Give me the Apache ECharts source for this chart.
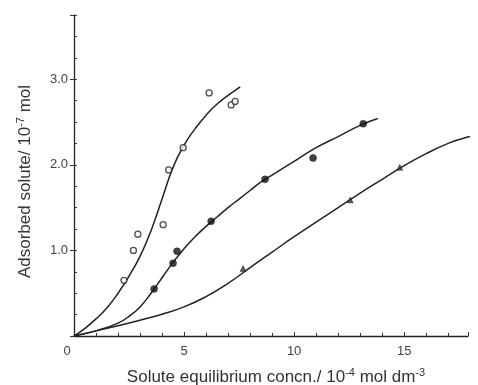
<!DOCTYPE html>
<html><head><meta charset="utf-8">
<script src="https://cdn.jsdelivr.net/npm/echarts@6/dist/echarts.min.js"></script>
<style>html,body{margin:0;padding:0;background:#fff}#c{width:478px;height:385px}</style>
</head><body><div id="c"></div>
<script>
// Measured points
const openCircles = [[2.27,0.65],[2.7,1.0],[2.9,1.19],[4.05,1.30],[4.3,1.94],[4.96,2.2],[6.14,2.84],[7.14,2.70],[7.32,2.74]];
const filledCircles = [[3.64,0.55],[4.5,0.85],[4.68,0.99],[6.23,1.34],[8.68,1.83],[10.86,2.08],[13.14,2.48]];
const triangles = [[7.68,0.79],[12.55,1.59],[14.8,1.97]];
// Fitted curves
const curve1 = [[0,0],[0.5,0.09],[1,0.2],[1.5,0.33],[2,0.5],[2.5,0.7],[3,0.93],[3.5,1.23],[4,1.6],[4.5,1.97],[5,2.23],[5.5,2.42],[6,2.58],[6.5,2.71],[7,2.81],[7.55,2.91]];
const curve2 = [[0,0],[1,0.06],[2,0.15],[2.5,0.23],[3,0.34],[3.5,0.5],[4,0.68],[4.5,0.86],[5,1.02],[5.5,1.16],[6,1.28],[6.5,1.39],[7,1.5],[7.5,1.6],[8,1.7],[8.5,1.8],[9,1.88],[10,2.04],[11,2.2],[12,2.33],[13,2.46],[13.8,2.54]];
const curve3 = [[0,0],[1,0.06],[2,0.12],[3,0.185],[4,0.255],[5,0.34],[6,0.46],[7,0.615],[8,0.8],[9,0.98],[10,1.16],[11,1.33],[12,1.5],[13,1.67],[14,1.83],[15,1.99],[16,2.13],[17,2.25],[17.7,2.31],[18.36,2.35]];
const xTickLabels = ['0','5','10','15'];
const yTickLabels = ['1.0','2.0','3.0'];

const chart = echarts.init(document.getElementById('c'));
const font = 'Liberation Sans, Arial, sans-serif';
const lineSeries = (d) => ({type:'line', data:d, smooth:0.5, showSymbol:false, symbol:'none', clip:false,
  lineStyle:{color:'#222', width:1.5}, silent:true, z:2});
const supStyle = {fontSize:11, verticalAlign:'top', padding:[0,0,9,0], color:'#333', fontFamily:font};
chart.setOption({
  animation:false,
  backgroundColor:'#fff',
  grid:{left:74, right:10, top:15, bottom:49, containLabel:false, outerBoundsMode:'none'},
  xAxis:[{
    type:'value', min:0, max:17.9, interval:1,
    axisLine:{lineStyle:{color:'#222', width:1.3}},
    axisTick:{inside:true, length:3, lineStyle:{color:'#333'}},
    splitLine:{show:false},
    axisLabel:{color:'#444', fontFamily:font, fontSize:13, margin:9, showMaxLabel:false,
      formatter:v=>{const s=String(v); if(v===0) return '{z|0}'; return xTickLabels.includes(s)?s:'';},
      rich:{z:{padding:[0,14,0,0], color:'#444', fontFamily:font, fontSize:13}}},
    name:'Solute equilibrium concn./ 10{sup|-4} mol dm{sup|-3}', nameLocation:'middle', nameGap:31,
    nameTextStyle:{color:'#333', fontFamily:font, fontSize:17, padding:[0,0,0,10], rich:{sup:supStyle}}
  },{
    type:'value', min:0, max:17.9, interval:5, position:'bottom',
    axisLine:{show:false}, axisLabel:{show:false}, splitLine:{show:false},
    axisTick:{inside:true, length:4, lineStyle:{color:'#333'}}
  }],
  yAxis:[{
    type:'value', min:0, max:3.75, interval:0.25,
    axisLine:{show:true, lineStyle:{color:'#222', width:1.3}},
    axisTick:{inside:true, length:3, lineStyle:{color:'#333'}},
    splitLine:{show:false},
    axisLabel:{color:'#444', fontFamily:font, fontSize:13, margin:6,
      formatter:v=>{const s=v.toFixed(1); return (Math.abs(v-Math.round(v))<1e-9 && yTickLabels.includes(s))?s:'';}},
    name:'Adsorbed solute/ 10{sup|-7} mol', nameLocation:'middle', nameGap:39,
    nameTextStyle:{color:'#333', fontFamily:font, fontSize:17, padding:[0,12,0,0], rich:{sup:supStyle}}
  },{
    type:'value', min:0, max:3.75, interval:1, position:'left',
    axisLine:{show:false}, axisLabel:{show:false}, splitLine:{show:false},
    axisTick:{show:true, inside:false, length:4, lineStyle:{color:'#333'}}
  }],
  series:[
    lineSeries(curve1), lineSeries(curve2), lineSeries(curve3),
    {type:'scatter', data:openCircles, symbol:'circle', symbolSize:6,
      itemStyle:{color:'#fff', borderColor:'#222', borderWidth:1.3}, z:3},
    {type:'scatter', data:filledCircles, symbol:'circle', symbolSize:7,
      itemStyle:{color:'#111', borderColor:'#111', borderWidth:0.5}, z:3},
    {type:'scatter', data:triangles, symbol:'triangle', symbolSize:6,
      itemStyle:{color:'#333', borderColor:'#111', borderWidth:0.5}, z:3}
  ]
});
</script></body></html>
